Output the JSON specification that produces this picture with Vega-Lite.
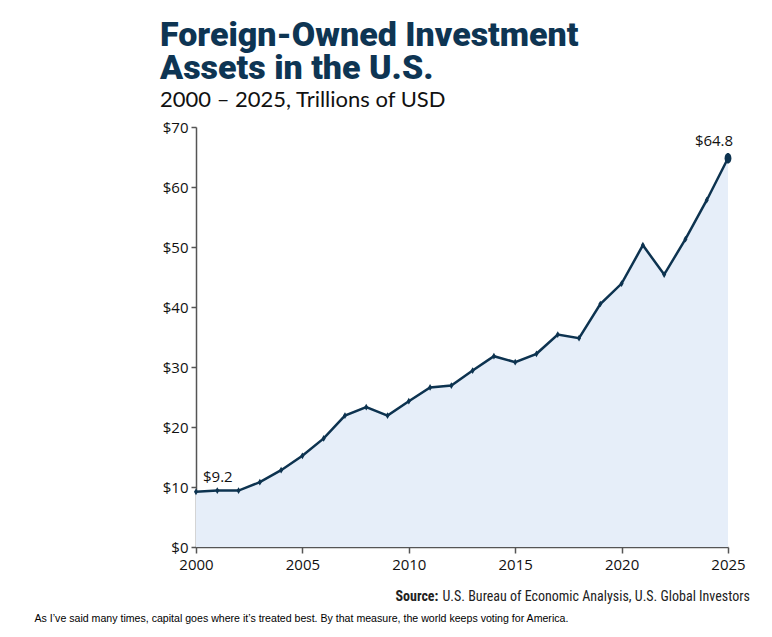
{
  "$schema": "https://vega.github.io/schema/vega-lite/v6.json",
  "width": 532,
  "height": 420,
  "autosize": {"type": "none"},
  "padding": {"left": 196, "top": 127, "right": 44, "bottom": 90},
  "background": "white",
  "config": {"view": {"stroke": null}},
  "title": {
    "text": ["Foreign-Owned Investment", "Assets in the U.S."],
    "subtitle": "2000 – 2025, Trillions of USD",
    "anchor": "start",
    "frame": "group",
    "dx": -36,
    "offset": 9,
    "font": "Roboto",
    "fontSize": 34,
    "fontWeight": 900,
    "lineHeight": 33,
    "color": "#0e3553",
    "subtitleFont": "Lato",
    "subtitleFontSize": 22,
    "subtitleColor": "#111111",
    "subtitlePadding": 4
  },
  "data": {
    "values": [
      {"year": 2000, "value": 9.2, "label": "$9.2"},
      {"year": 2001, "value": 9.4, "label": ""},
      {"year": 2002, "value": 9.4, "label": ""},
      {"year": 2003, "value": 10.8, "label": ""},
      {"year": 2004, "value": 12.8, "label": ""},
      {"year": 2005, "value": 15.2, "label": ""},
      {"year": 2006, "value": 18.1, "label": ""},
      {"year": 2007, "value": 21.9, "label": ""},
      {"year": 2008, "value": 23.3, "label": ""},
      {"year": 2009, "value": 21.9, "label": ""},
      {"year": 2010, "value": 24.3, "label": ""},
      {"year": 2011, "value": 26.6, "label": ""},
      {"year": 2012, "value": 26.9, "label": ""},
      {"year": 2013, "value": 29.4, "label": ""},
      {"year": 2014, "value": 31.8, "label": ""},
      {"year": 2015, "value": 30.8, "label": ""},
      {"year": 2016, "value": 32.2, "label": ""},
      {"year": 2017, "value": 35.4, "label": ""},
      {"year": 2018, "value": 34.8, "label": ""},
      {"year": 2019, "value": 40.5, "label": ""},
      {"year": 2020, "value": 43.9, "label": ""},
      {"year": 2021, "value": 50.3, "label": ""},
      {"year": 2022, "value": 45.4, "label": ""},
      {"year": 2023, "value": 51.3, "label": ""},
      {"year": 2024, "value": 57.8, "label": ""},
      {"year": 2025, "value": 64.8, "label": "$64.8"}
    ]
  },
  "layer": [
    {
      "encoding": {
        "x": {
          "field": "year",
          "type": "quantitative",
          "scale": {"domain": [2000, 2025], "nice": false, "zero": false},
          "axis": {
            "values": [2000, 2005, 2010, 2015, 2020, 2025],
            "format": "d",
            "grid": false,
            "domainColor": "#555555",
            "domainWidth": 1.5,
            "tickColor": "#555555",
            "tickWidth": 1.5,
            "tickSize": 6,
            "labelFont": "Open Sans",
            "labelFontSize": 15,
            "labelColor": "#111111",
            "labelPadding": 4,
            "labelFlush": false,
            "title": "As I’ve said many times, capital goes where it’s treated best. By that measure, the world keeps voting for America.",
            "titleFont": "Liberation Sans",
            "titleFontSize": 10.6,
            "titleFontWeight": "normal",
            "titleColor": "#000000",
            "titleAnchor": "start",
            "titleAlign": "left",
            "titleBaseline": "alphabetic",
            "titleX": -162,
            "titleY": 74
          }
        },
        "y": {
          "field": "value",
          "type": "quantitative",
          "scale": {"domain": [0, 70], "nice": false},
          "axis": {
            "values": [0, 10, 20, 30, 40, 50, 60, 70],
            "labelExpr": "'$' + datum.value",
            "grid": false,
            "domainColor": "#555555",
            "domainWidth": 1.5,
            "tickColor": "#555555",
            "tickWidth": 1.5,
            "tickSize": 5,
            "labelFont": "Open Sans",
            "labelFontSize": 15,
            "labelColor": "#111111",
            "labelPadding": 3,
            "title": "Source:",
            "titleFont": "Roboto Condensed, DejaVu Sans Condensed, Roboto",
            "titleFontSize": 14,
            "titleFontWeight": "bold",
            "titleColor": "#222222",
            "titleAngle": 0,
            "titleAlign": "left",
            "titleBaseline": "alphabetic",
            "titleX": 199,
            "titleY": 473
          }
        }
      },
      "layer": [
        {
          "mark": {"type": "area", "color": "#e6eef9", "opacity": 1}
        },
        {
          "mark": {"type": "line", "color": "#0d3350", "strokeWidth": 2.5},
          "encoding": {}
        },
        {
          "transform": [{"filter": "datum.year < 2025"}],
          "mark": {"type": "point", "filled": true, "color": "#0d3350", "shape": "M-0.6,0L0,-1L0.6,0L0,1Z", "size": 45, "opacity": 1}
        },
        {
          "transform": [{"filter": "datum.year == 2025"}],
          "mark": {"type": "point", "filled": true, "color": "#0d3350", "shape": "M-0.65,0A0.65,1 0 1,1 0.65,0A0.65,1 0 1,1 -0.65,0Z", "size": 110, "opacity": 1}
        },
        {
          "transform": [{"filter": "datum.year == 2000"}],
          "mark": {"type": "text", "align": "left", "baseline": "alphabetic", "dx": 7, "dy": -10, "font": "Open Sans", "fontSize": 15, "color": "#111111"},
          "encoding": {"text": {"field": "label"}}
        },
        {
          "transform": [{"filter": "datum.year == 2025"}],
          "mark": {"type": "text", "align": "center", "baseline": "alphabetic", "dx": -14, "dy": -12, "font": "Open Sans", "fontSize": 15, "color": "#111111"},
          "encoding": {"text": {"field": "label"}}
        }
      ]
    },
    {
      "mark": {"type": "rule", "opacity": 0},
      "encoding": {
        "y": {
          "field": "value",
          "type": "quantitative",
          "scale": {"domain": [0, 70], "nice": false},
          "axis": {
            "orient": "right",
            "labels": false,
            "ticks": false,
            "domain": false,
            "grid": false,
            "title": "U.S. Bureau of Economic Analysis, U.S. Global Investors",
            "titleFont": "Roboto Condensed, DejaVu Sans Condensed, Roboto",
            "titleFontSize": 14,
            "titleFontWeight": "normal",
            "titleColor": "#222222",
            "titleAngle": 0,
            "titleAlign": "left",
            "titleBaseline": "alphabetic",
            "titleX": -286,
            "titleY": 473
          }
        }
      }
    }
  ],
  "resolve": {"axis": {"y": "independent"}}
}
